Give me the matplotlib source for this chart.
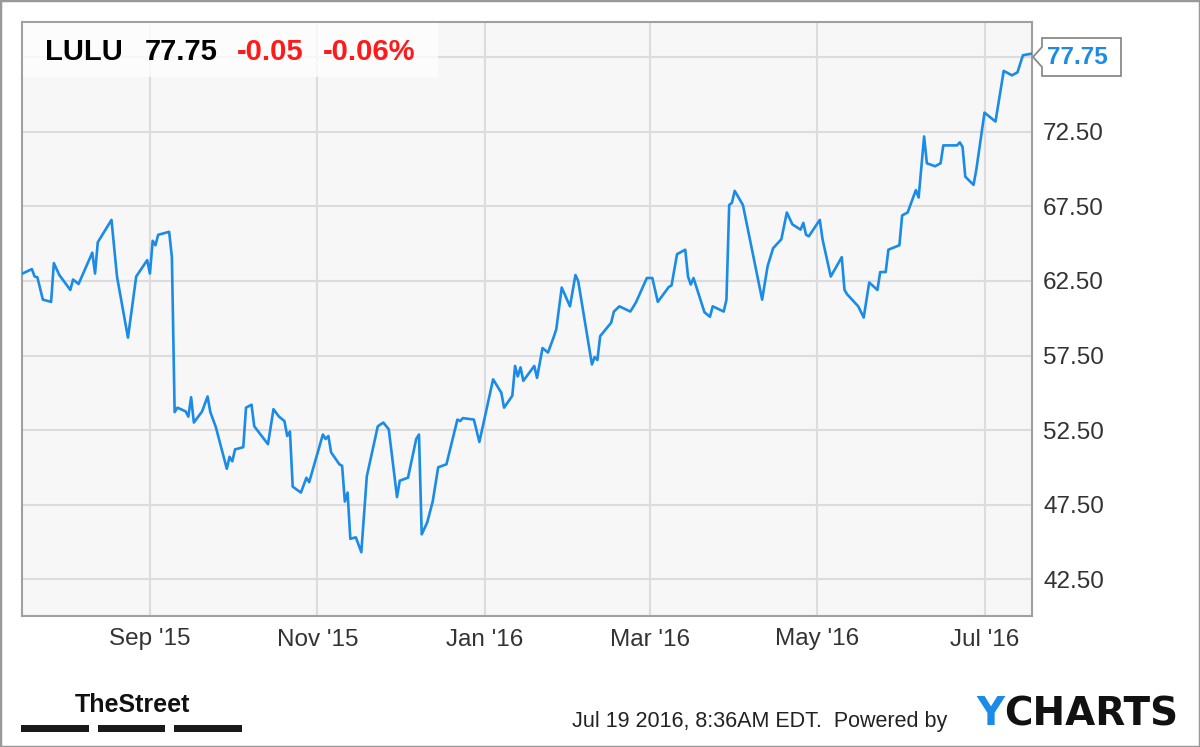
import numpy as np
import pandas as pd
import matplotlib
matplotlib.use('Agg')
import matplotlib.pyplot as plt
import matplotlib.dates as mdates
from matplotlib.patches import Rectangle, Polygon

plt.rcParams['font.family'] = ['Liberation Sans', 'DejaVu Sans']

# LULU daily closes
dates = ['2015-07-16', '2015-07-20', '2015-07-21', '2015-07-22', '2015-07-24', '2015-07-27',
         '2015-07-28', '2015-07-30', '2015-08-03', '2015-08-04', '2015-08-06', '2015-08-11',
         '2015-08-12', '2015-08-13', '2015-08-18', '2015-08-20', '2015-08-24', '2015-08-27',
         '2015-08-31', '2015-09-01', '2015-09-02', '2015-09-03', '2015-09-04', '2015-09-08',
         '2015-09-09', '2015-09-10', '2015-09-11', '2015-09-14', '2015-09-15', '2015-09-16',
         '2015-09-17', '2015-09-20', '2015-09-22', '2015-09-23', '2015-09-25', '2015-09-29',
         '2015-09-30', '2015-10-01', '2015-10-02', '2015-10-05', '2015-10-06', '2015-10-08',
         '2015-10-09', '2015-10-14', '2015-10-16', '2015-10-18', '2015-10-20', '2015-10-21',
         '2015-10-22', '2015-10-23', '2015-10-26', '2015-10-28', '2015-10-29', '2015-11-03',
         '2015-11-04', '2015-11-05', '2015-11-06', '2015-11-09', '2015-11-10', '2015-11-11',
         '2015-11-12', '2015-11-13', '2015-11-15', '2015-11-17', '2015-11-19', '2015-11-23',
         '2015-11-25', '2015-11-27', '2015-11-30', '2015-12-01', '2015-12-04', '2015-12-07',
         '2015-12-08', '2015-12-09', '2015-12-11', '2015-12-13', '2015-12-15', '2015-12-18',
         '2015-12-20', '2015-12-22', '2015-12-23', '2015-12-24', '2015-12-28', '2015-12-30',
         '2016-01-04', '2016-01-07', '2016-01-08', '2016-01-11', '2016-01-12', '2016-01-13',
         '2016-01-14', '2016-01-15', '2016-01-19', '2016-01-20', '2016-01-22', '2016-01-24',
         '2016-01-26', '2016-01-27', '2016-01-29', '2016-02-01', '2016-02-03', '2016-02-04',
         '2016-02-09', '2016-02-10', '2016-02-11', '2016-02-12', '2016-02-16', '2016-02-17',
         '2016-02-19', '2016-02-23', '2016-02-25', '2016-02-29', '2016-03-02', '2016-03-04',
         '2016-03-08', '2016-03-09', '2016-03-11', '2016-03-14', '2016-03-15', '2016-03-16',
         '2016-03-17', '2016-03-21', '2016-03-23', '2016-03-24', '2016-03-28', '2016-03-29',
         '2016-03-30', '2016-03-31', '2016-04-01', '2016-04-04', '2016-04-11', '2016-04-13',
         '2016-04-15', '2016-04-18', '2016-04-20', '2016-04-22', '2016-04-25', '2016-04-26',
         '2016-04-27', '2016-04-28', '2016-05-02', '2016-05-03', '2016-05-06', '2016-05-10',
         '2016-05-11', '2016-05-12', '2016-05-16', '2016-05-18', '2016-05-20', '2016-05-23',
         '2016-05-24', '2016-05-26', '2016-05-27', '2016-05-31', '2016-06-01', '2016-06-03',
         '2016-06-06', '2016-06-07', '2016-06-09', '2016-06-10', '2016-06-13', '2016-06-15',
         '2016-06-16', '2016-06-21', '2016-06-22', '2016-06-23', '2016-06-24', '2016-06-27',
         '2016-06-28', '2016-07-01', '2016-07-05', '2016-07-08', '2016-07-09', '2016-07-11',
         '2016-07-13', '2016-07-15', '2016-07-18']

prices = [62.95, 63.3, 62.8, 62.75, 61.25, 61.1,
          63.7, 62.9, 61.9, 62.6, 62.3, 64.4,
          63.0, 65.1, 66.6, 62.8, 58.7, 62.8,
          63.9, 63.0, 65.2, 64.9, 65.6, 65.8,
          64.1, 53.7, 54.0, 53.75, 53.4, 54.7,
          53.0, 53.75, 54.75, 53.7, 52.7, 49.9,
          50.7, 50.4, 51.2, 51.35, 54.0, 54.2,
          52.75, 51.55, 53.9, 53.4, 53.1, 52.1,
          52.4, 48.7, 48.3, 49.3, 49.0, 52.2,
          51.9, 52.1, 51.0, 50.2, 50.1, 47.7,
          48.3, 45.2, 45.3, 44.3, 49.4, 52.75,
          53.0, 52.55, 48.0, 49.1, 49.3, 51.9,
          52.2, 45.5, 46.3, 47.7, 50.0, 50.2,
          51.7, 53.2, 53.1, 53.3, 53.2, 51.7,
          55.9, 55.0, 54.0, 54.8, 56.8, 56.1,
          56.7, 55.8, 56.8, 56.0, 58.0, 57.7,
          58.7, 59.25, 62.06, 60.8, 62.9, 62.5,
          56.9, 57.4, 57.2, 58.8, 59.7, 60.45,
          60.8, 60.45, 61.05, 62.7, 62.7, 61.1,
          62.1, 62.2, 64.3, 64.6, 62.8, 62.26,
          62.7, 60.4, 60.1, 60.8, 60.45, 61.25,
          67.6, 67.75, 68.55, 67.6, 61.25, 63.5,
          64.7, 65.3, 67.1, 66.3, 65.95, 66.4,
          65.6, 65.5, 66.6, 65.3, 62.8, 64.1,
          61.9, 61.6, 60.8, 60.05, 62.4, 61.9,
          63.1, 63.1, 64.6, 64.9, 66.9, 67.1,
          68.6, 68.1, 72.2, 70.4, 70.2, 70.4,
          71.6, 71.6, 71.8, 71.5, 69.5, 68.95,
          69.95, 73.8, 73.2, 76.6, 76.5, 76.3,
          76.5, 77.65, 77.75]

tick_dates = ['2015-09-01', '2015-11-01', '2016-01-01', '2016-03-01', '2016-05-01', '2016-07-01']
tick_labels = ["Sep '15", "Nov '15", "Jan '16", "Mar '16", "May '16", "Jul '16"]
y_ticks = [42.5, 47.5, 52.5, 57.5, 62.5, 67.5, 72.5, 77.5]
y_labels = ['42.50', '47.50', '52.50', '57.50', '62.50', '67.50', '72.50', '']

ticker = 'LULU'
last_price = '77.75'
change = '-0.05'
change_pct = '-0.06%'

W, H = 1200, 747


def fx(x):
    return x / W


def fy(y):
    return 1 - y / H


dates = pd.to_datetime(dates)
blue = '#1b8be8'

fig = plt.figure(figsize=(12, 7.47), dpi=100)
ax = fig.add_axes([fx(22), fy(616), fx(1010), 594 / H])
ax.set_facecolor('#f7f7f7')
ax.plot(dates, prices, color=blue, lw=1.9, solid_joinstyle='round', zorder=3)

sep1 = mdates.date2num(pd.Timestamp('2015-09-01'))
ax.set_xlim(sep1 - 46.6, sep1 + 321.3)
ax.set_ylim(40.02, 79.88)

ax.set_xticks(pd.to_datetime(tick_dates), tick_labels)
ax.set_yticks(y_ticks, y_labels)
ax.yaxis.tick_right()
ax.tick_params(length=0, labelsize=17.5, labelcolor='#333333')
ax.tick_params(axis='x', pad=9)
ax.tick_params(axis='y', pad=8)
ax.grid(True, color='#dcdcdc', lw=1.5, zorder=1)
ax.set_axisbelow(True)
for s in ax.spines.values():
    s.set_color('#a0a0a0')
    s.set_linewidth(1.5)

# header box
fig.patches.append(Rectangle((fx(23), fy(77)), fx(415), 54 / H, transform=fig.transFigure,
                             fc='white', alpha=0.75, ec='none', zorder=5))
fig.text(fx(45), fy(60), ticker, fontsize=21, fontweight='bold', color='black', zorder=6)
fig.text(fx(145), fy(60), last_price, fontsize=21, fontweight='bold', color='black', zorder=6)
fig.text(fx(237), fy(60), change, fontsize=21, fontweight='bold', color='#ff1a1a', zorder=6)
fig.text(fx(323), fy(60), change_pct, fontsize=21, fontweight='bold', color='#ff1a1a', zorder=6)

# last price flag
flag = [(1042, 38), (1121, 38), (1121, 76), (1042, 76), (1042, 67), (1033, 57), (1042, 47)]
fig.patches.append(Polygon([(fx(a), fy(b)) for a, b in flag], closed=True, transform=fig.transFigure,
                           fc='white', ec='#8a8a8a', lw=1.3, zorder=5))
fig.text(fx(1047), fy(57), last_price, fontsize=17.5, fontweight='bold', color=blue,
         va='center', zorder=6)

# footer
fig.text(fx(75), fy(712), 'TheStreet', fontsize=18, fontweight='bold', color='#111111')
for x0, x1 in [(21, 89), (98, 165), (174, 242)]:
    fig.patches.append(Rectangle((fx(x0), fy(732)), fx(x1 - x0), 7 / H, transform=fig.transFigure,
                                 fc='#1a1a1a', ec='none'))
fig.text(fx(572), fy(727), 'Jul 19 2016, 8:36AM EDT.  Powered by', fontsize=15.5, color='#222222')
fig.text(fx(1004), fy(725), 'Y', fontsize=28, fontweight='bold', color=blue,
         ha='right', family=['DejaVu Sans'])
fig.text(fx(1178), fy(725), 'CHARTS', fontsize=28, fontweight='bold', color='#111111',
         ha='right', family=['DejaVu Sans'])

# outer frame
fig.patches.append(Rectangle((0, 0), 1, 1, transform=fig.transFigure, fc='none', ec='#999999', lw=2.5))

fig.savefig('out.png', dpi=100)
